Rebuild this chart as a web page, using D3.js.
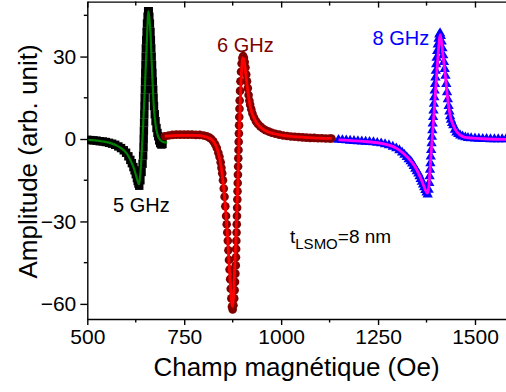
<!DOCTYPE html>
<html><head><meta charset="utf-8">
<script src="https://cdn.jsdelivr.net/npm/d3@7"></script>
<style>html,body{margin:0;padding:0;background:#fff;}svg{display:block;font-family:"Liberation Sans",Arial,sans-serif;}</style>
</head><body><svg id="c" width="506" height="392"></svg>
<script>
// ---- data ----
const xTickValues = [500, 750, 1000, 1250, 1500];
const xMinorValues = [625, 875, 1125, 1375];
const yTickValues = [-60, -30, 0, 30];
const yMinorValues = [-45, -15, 15, 45];

// 5 GHz measured (black squares)
const data5 = [[500,-0.3],[508,-0.4],[516,-0.5],[524,-0.6],[532,-0.8],[540,-0.9],[548,-1.1],[556,-1.4],[564,-1.7],[572,-2.1],[580,-2.7],[587,-3.3],[594,-4.1],[600,-5.0],[606,-6.3],[611,-7.6],[615,-8.8],[619,-10.2],[622,-11.4],[625,-12.8],[628,-14.2],[630,-15.3],[632,-16.2],[634,-17],[637,-15],[640,-12],[642.5,-9],[644,-6],[645,-3],[645.5,0],[646,3],[646.5,6],[647,9],[647.5,12],[648,15],[648.5,18],[649,21],[649.5,24],[650,27],[650.5,30],[651,33],[652,36],[653,39],[654,42],[655.5,44.5],[657,46.5],[658.5,46.5],[660,44.5],[661.5,42],[663,39],[664,36],[665,33],[666,30],[667,27],[668,24],[669,21],[670,18],[671,15],[672,12],[674,9],[676,6.5],[678.5,4],[681,2.2],[683,1],[685.5,-0.5],[688,-1.5],[691,-2],[694,-1.8]];
// 5 GHz fit (green)
const fit5 = [[500,-0.3],[520,-0.5],[540,-0.9],[560,-1.5],[580,-2.7],[595,-4.2],[605,-6.0],[613,-8.2],[620,-10.6],[626,-13.4],[630,-15.3],[633.5,-16.5],[636,-14],[640,-6],[644,5],[648,17],[652,30],[655,40.5],[657.3,46.5],[660,44],[663,38.6],[665.5,30],[668.5,20.4],[671.5,12],[674.6,7],[678,3.5],[683,0.9],[688,-0.3],[694,-1],[700,-1.2],[706,-1.2]];

// 6 GHz measured (wine circles)
const data6 = [[700,1.0],[710,1.3],[720,1.5],[730,1.6],[740,1.6],[750,1.6],[760,1.6],[770,1.6],[780,1.5],[790,1.5],[800,1.3],[808,1.0],[815,0.5],[820,0],[825,-0.8],[830,-2],[834,-3.3],[838,-5],[841,-6.5],[844,-8.5],[846,-10.5],[848,-12.5],[850,-15],[852,-18],[854,-21],[856,-24.5],[858,-28],[859.5,-31],[861,-34],[862.5,-37],[864,-40.5],[865.5,-44],[867,-47.5],[868.5,-51],[870,-54.5],[871.5,-58],[873,-61],[875,-62],[877,-60.5],[879,-58],[880,-55],[881,-52],[882,-49],[883,-46],[883.5,-43],[884,-40],[884.5,-37],[885,-34],[885.5,-31],[886,-28],[886.5,-25],[887,-22],[887.5,-19],[888,-16],[888.5,-13],[889,-10],[889.5,-7],[890,-4],[890.5,-1],[891,2],[891.5,5],[892,8],[892.5,11],[893,14],[894,17.5],[895,21],[896.5,24.5],[898,27.5],[900,29.5],[902,30.2],[904,29.5],[906,28],[908,26],[910,23.5],[912,21],[914,18.5],[916,16],[918,14],[920,12.5],[923,10.8],[926,9.3],[930,7.8],[935,6.5],[940,5.5],[946,4.6],[953,3.8],[960,3.2],[968,2.7],[976,2.3],[985,1.9],[995,1.6],[1005,1.3],[1015,1.1],[1025,0.9],[1035,0.8],[1045,0.7],[1055,0.6],[1065,0.5],[1075,0.4],[1085,0.4],[1095,0.3],[1105,0.3],[1115,0.2],[1125,0.2],[1130,0.2]];
// 6 GHz fit (red)
const fit6 = [[700,1.0],[740,1.3],[780,1.3],[800,1.0],[815,0.3],[825,-0.8],[835,-3.5],[842,-7.5],[848,-13],[853,-19.5],[858,-28],[862,-36],[866,-46],[869,-53],[872,-59],[874.5,-61],[877,-58],[880,-48],[883,-37],[886,-25],[889,-13],[892,3],[895,15],[898,25],[901,29.5],[904,29],[907,26],[911,21],[915,16.5],[920,12],[926,9],[935,6.3],[946,4.4],[960,3],[980,2],[1000,1.4],[1030,0.9],[1060,0.6],[1100,0.3],[1130,0.2]];

// 8 GHz measured (blue triangles)
const data8 = [[1148,-0.3],[1158,-0.4],[1168,-0.5],[1178,-0.6],[1188,-0.7],[1198,-0.8],[1208,-0.9],[1218,-1.0],[1228,-1.1],[1238,-1.2],[1248,-1.4],[1258,-1.6],[1268,-1.9],[1278,-2.3],[1288,-2.8],[1297,-3.4],[1305,-4.1],[1312,-4.9],[1318,-5.7],[1324,-6.6],[1329,-7.4],[1334,-8.1],[1338,-8.9],[1342,-9.8],[1346,-10.8],[1350,-11.7],[1354,-12.6],[1357,-13.6],[1360,-14.6],[1363,-15.6],[1366,-16.6],[1369,-17.6],[1372,-18.6],[1375,-19.5],[1378,-20.2],[1380.5,-18.5],[1382,-16],[1383,-13.6],[1384,-11.2],[1385,-8.8],[1386,-6.4],[1387,-4],[1388,-1.6],[1389,0.8],[1390,3.2],[1391,5.6],[1392,8],[1393,10.4],[1394,12.8],[1395,15.2],[1396,17.6],[1397,20],[1398,22.4],[1399,24.8],[1400,27.2],[1401,29.6],[1402.5,32],[1404,34.4],[1406,36.5],[1408,38],[1410,38.5],[1412,37.5],[1414,35.5],[1416,33],[1418,30.5],[1420,28],[1422,25.5],[1424,23],[1426,20],[1428,17],[1430,14.5],[1432,12],[1434,10],[1436,8.3],[1438,7],[1441,5.8],[1444,5],[1448,3.4],[1452,2.4],[1457,1.8],[1462,1.3],[1468,0.9],[1475,0.6],[1482,0.4],[1490,0.3],[1500,0.2],[1510,0.1],[1520,0],[1530,0],[1540,-0.1],[1550,-0.1],[1560,-0.1],[1570,-0.1],[1580,-0.1]];
// 8 GHz fit (magenta)
const fit8 = [[1148,-0.3],[1180,-0.6],[1212,-0.9],[1255,-1.5],[1280,-2.3],[1298,-3.4],[1315,-5.2],[1332,-7.6],[1345,-10],[1354,-12.4],[1361,-14.6],[1367,-16.7],[1372,-18.5],[1377,-19.7],[1380,-18.5],[1384,-11],[1388,-3],[1392,5],[1396,13],[1400,21],[1404,29],[1407,34.5],[1410,38],[1413,36],[1417,31],[1422,25],[1427,18],[1431,13],[1436,8.5],[1444,5],[1452,2.8],[1461,1.5],[1475,0.6],[1495,0.3],[1530,0],[1580,-0.1]];

const labels = ["5 GHz", "6 GHz", "8 GHz"];

// ---- drawing ----
const svg = d3.select("#c");
const L = 87.3, R = 506, T = 1.6, B = 319;
const x = d3.scaleLinear().domain([500, 1580]).range([L, R]);
const y = d3.scaleLinear().domain([-65.5, 50]).range([B, T]);

svg.append("defs").append("clipPath").attr("id","clip")
  .append("rect").attr("x",L).attr("y",T).attr("width",R-L).attr("height",B-T);
const plot = svg.append("g").attr("clip-path","url(#clip)");
const line = d3.line().x(d=>x(d[0])).y(d=>y(d[1])).curve(d3.curveMonotoneX);

// 5 GHz
const sq = 8.4;
plot.append("g").selectAll("rect").data(data5).join("rect")
  .attr("x",d=>x(d[0])-sq/2).attr("y",d=>y(d[1])-sq/2).attr("width",sq).attr("height",sq).attr("fill","#000");
// 6 GHz
plot.append("g").selectAll("circle").data(data6).join("circle")
  .attr("cx",d=>x(d[0])).attr("cy",d=>y(d[1])).attr("r",4.3).attr("fill","#800000");
// 8 GHz
const tri = d3.symbol().type(d3.symbolTriangle).size(46);
plot.append("g").selectAll("path").data(data8).join("path")
  .attr("d",tri).attr("transform",d=>`translate(${x(d[0])},${y(d[1])})`).attr("fill","#0000ff");

plot.append("path").datum(fit5).attr("d",line).attr("fill","none").attr("stroke","#008000").attr("stroke-width",2.2);
plot.append("path").datum(fit6).attr("d",line).attr("fill","none").attr("stroke","#ff0000").attr("stroke-width",2.8);
plot.append("path").datum(fit8).attr("d",line).attr("fill","none").attr("stroke","#ff00ff").attr("stroke-width",2.8);

// axes
const fmt = d3.format("d");
const xb = d3.axisBottom(x).tickValues(xTickValues).tickFormat(fmt).tickSize(6).tickSizeOuter(0).tickPadding(4);
const gx = svg.append("g").attr("transform",`translate(0,${B})`).call(xb);
gx.select(".domain").attr("stroke-width",1.4);
gx.selectAll(".tick line").attr("stroke-width",1.4);
gx.selectAll(".tick text").attr("font-size",21).attr("font-family","Liberation Sans, Arial").attr("fill","#000");
svg.append("g").selectAll("line").data(xMinorValues).join("line")
  .attr("x1",d=>x(d)).attr("x2",d=>x(d)).attr("y1",B).attr("y2",B+3.5).attr("stroke","#000").attr("stroke-width",1.4);

const yl = d3.axisLeft(y).tickValues(yTickValues).tickFormat(fmt).tickSize(7).tickSizeOuter(0).tickPadding(4);
const gy = svg.append("g").attr("transform",`translate(${L},0)`).call(yl);
gy.select(".domain").attr("stroke-width",1.4);
gy.selectAll(".tick line").attr("stroke-width",1.4);
gy.selectAll(".tick text").attr("font-size",21).attr("font-family","Liberation Sans, Arial").attr("fill","#000");
svg.append("g").selectAll("line").data(yMinorValues).join("line")
  .attr("x1",L-3.5).attr("x2",L).attr("y1",d=>y(d)).attr("y2",d=>y(d)).attr("stroke","#000").attr("stroke-width",1.4);

// top axis with inward ticks
const xt = d3.axisBottom(x).tickValues(xTickValues).tickSize(6).tickSizeOuter(0).tickFormat("");
const gt = svg.append("g").attr("transform",`translate(0,${T})`).call(xt);
gt.select(".domain").attr("stroke-width",1.4);
gt.selectAll(".tick line").attr("stroke-width",1.4);
svg.append("g").selectAll("line").data(xMinorValues).join("line")
  .attr("x1",d=>x(d)).attr("x2",d=>x(d)).attr("y1",T).attr("y2",T+4).attr("stroke","#000").attr("stroke-width",1.4);

// titles
svg.append("text").attr("x",296.5).attr("y",376).attr("text-anchor","middle")
  .attr("font-size",26).attr("fill","#000").text("Champ magnétique (Oe)");
svg.append("text").attr("transform","translate(37,161.5) rotate(-90)").attr("text-anchor","middle")
  .attr("font-size",26).attr("fill","#000").text("Amplitude (arb. unit)");

// annotations
svg.append("text").attr("x",113).attr("y",212).attr("font-size",20).attr("fill","#000").text(labels[0]);
svg.append("text").attr("x",217).attr("y",51.5).attr("font-size",20).attr("fill","#800000").text(labels[1]);
svg.append("text").attr("x",372.5).attr("y",45).attr("font-size",20).attr("fill","#0000ff").text(labels[2]);
const tl = svg.append("text").attr("x",290).attr("y",243.3).attr("font-size",19).attr("fill","#000");
tl.append("tspan").text("t");
tl.append("tspan").attr("font-size",15).attr("dy",6).text("LSMO");
tl.append("tspan").attr("dy",-6).text("=8 nm");
</script></body></html>
